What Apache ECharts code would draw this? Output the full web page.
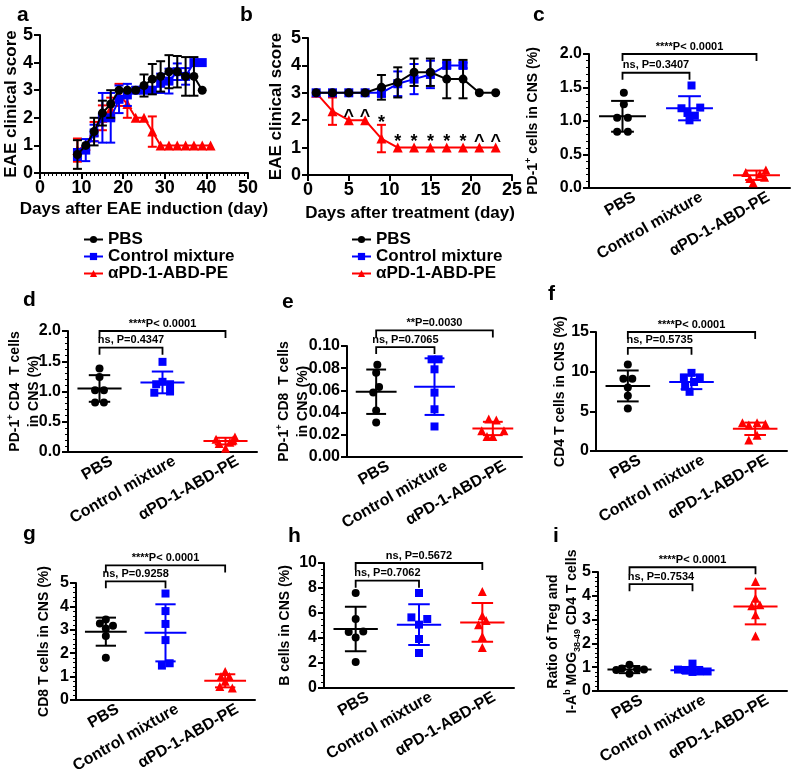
<!DOCTYPE html>
<html><head><meta charset="utf-8">
<script src="https://cdn.jsdelivr.net/npm/echarts@6/dist/echarts.min.js"></script>
<style>html,body{margin:0;padding:0;background:#fff}#chart{width:800px;height:769px}</style>
</head><body><div id="chart"></div>
<script>
// ---------- data ----------
const groups = ['PBS', 'Control mixture', 'αPD-1-ABD-PE'];

// panel a
const aDays = [9,11,13,15,17,19,21,23,25,27,29,31,33,35,37,39];
const aDaysAnti = [9,11,13,15,17,19,21,23,25,27,29,31,33,35,37,39,41];
const aPBS = [0.67,1.0,1.5,2.17,2.5,3.0,3.0,3.0,3.17,3.4,3.5,3.67,3.67,3.5,3.5,3.0];
const aPBSErr = [0.52,0,0.5,0.45,0.5,0,0,0,0.4,0.55,0.55,0.6,0.57,0.7,0.7,0];
const aCtrl = [0.67,0.83,1.45,2.0,2.0,2.67,2.83,3.0,3.0,3.0,3.25,3.33,3.67,3.5,4.0,4.0];
const aCtrlErr = [0.2,0.4,0.3,0.9,0.9,0.5,0.4,0,0,0,0.35,0.45,0.3,0.3,0,0];
const aAnti = [0.83,1.0,1.5,2.0,2.33,2.83,2.5,2.0,2.0,1.5,1,1,1,1,1,1,1];
const aAntiErr = [0.42,0,0.35,0.45,0.4,0.4,0.5,0,0,0.55,0,0,0,0,0,0,0];

// panel b
const bDays = [1,3,5,7,9,11,13,15,17,19,21,23];
const bDaysCtrl = [1,3,5,7,9,11,13,15,17,19];
const bPBS = [3,3,3,3,3.2,3.38,3.75,3.75,3.5,3.5,3,3];
const bPBSErr = [0,0,0,0,0.45,0.55,0.5,0.5,0.7,0.7,0,0];
const bCtrl = [3,3,3,3,3,3.33,3.5,3.67,4,4];
const bCtrlErr = [0,0,0,0,0.15,0.45,0.55,0.5,0.1,0.1];
const bAnti = [3,2.33,2,2,1.33,1,1,1,1,1,1,1];
const bAntiErr = [0,0.5,0,0,0.5,0,0,0,0,0,0,0];
const bMarkDays = [5,7,9,11,13,15,17,19,21,23];
const bMarks = ['^','^','*','*','*','*','*','*','^','^'];
const bMarkY = [2.38,2.38,2.07,1.4,1.4,1.4,1.4,1.4,1.46,1.46];

// scatter panels: values per group [PBS, Control, anti]
const cVals = [[1.42,1.25,1.05,1.05,0.84,0.84],[1.53,1.19,1.2,1.08,1.01,1.12],[0.27,0.23,0.21,0.14,0.16,0.08]];
const cMean = [1.07,1.19,0.19], cSD = [0.23,0.18,0.07];
const cP = ['****P< 0.0001','ns, P=0.3407'], cBrY = [2.0,1.72];

const dVals = [[1.38,1.24,1.02,1.02,0.82,0.82],[1.49,1.12,1.12,1.16,0.98,1.0],[0.25,0.21,0.16,0.14,0.06,0.2]];
const dMean = [1.05,1.15,0.18], dSD = [0.22,0.18,0.055];
const dP = ['****P< 0.0001','ns, P=0.4347'], dBrY = [2.0,1.725];

const eVals = [[0.083,0.076,0.063,0.058,0.042,0.031],[0.088,0.088,0.079,0.058,0.043,0.0275],[0.0343,0.0334,0.0236,0.0236,0.0185,0.0185]];
const eMean = [0.0588,0.0634,0.0257], eSD = [0.02,0.0255,0.006];
const eP = ['**P=0.0030','ns, P=0.7065'], eBrY = [0.114,0.099];

const fVals = [[10.9,9.1,9.1,8.0,6.95,5.36],[9.85,9.27,9.27,8.7,8.1,7.46],[3.56,3.56,3.4,3.27,2.0,1.38]];
const fMean = [8.2,8.7,2.8], fSD = [1.95,0.9,0.78];
const fP = ['****P< 0.0001','ns, P=0.5735'], fBrY = [15.0,13.0];

const gVals = [[3.44,3.27,3.17,3.06,2.73,1.81],[4.55,3.8,3.25,2.56,1.47,1.57],[1.22,1.0,1.0,0.8,0.58,0.51]];
const gMean = [2.92,2.87,0.82], gSD = [0.6,1.22,0.28];
const gP = ['****P< 0.0001','ns, P=0.9258'], gBrY = [5.75,5.07];

const hVals = [[7.6,5.52,4.48,4.53,4.05,2.08],[7.6,5.65,5.52,5.07,3.92,2.8],[7.73,5.79,5.41,5.07,4.13,3.25]];
const hMean = [4.72,5.07,5.25], hSD = [1.78,1.63,1.55];
const hP = ['ns, P=0.5672','ns, P=0.7062'], hBrY = [10.0,8.59];

const iVals = [[1.1,0.95,0.92,0.9,0.88,0.72],[1.15,0.9,0.88,0.82,0.82,0.8],[4.6,3.9,3.58,3.62,3.2,2.31]];
const iMean = [0.9,0.87,3.55], iSD = [0.15,0.14,0.75];
const iP = ['****P< 0.0001','ns, P=0.7534'], iBrY = [5.2,4.49];

// ---------- layout / style ----------
const fam = '"Liberation Sans", Arial, Helvetica, sans-serif';
const colors = ['#000000', '#0000ff', '#ff0000'];
const symbols = ['circle', 'rect', 'triangle'];
const symSizes = [8, 8, 9];
const labelShift = 12;

// horizontal jitter of points (fraction of category band)
const cJit = [[0.02,0.02,-0.08,0.08,-0.08,0.08],[0.03,-0.12,0.16,0.08,0,-0.03],[0.14,-0.16,0.05,-0.1,0.12,-0.05]];
const dJit = [[0,0,-0.07,0.07,-0.07,0.07],[0,-0.1,0.12,0,-0.13,0.12],[0.15,-0.15,0.07,-0.1,0,0.12]];
const eJit = [[0.02,0,0.05,-0.05,0,0],[-0.05,0.07,0,0,0,0],[-0.07,0.06,-0.19,0.19,-0.1,0]];
const fJit = [[0,-0.07,0.07,0,0,0],[0,-0.12,0.13,0.04,-0.1,-0.03],[-0.2,0.03,0.16,-0.1,0.03,-0.1]];
const gJit = [[0,-0.1,0.12,0,0,0],[0,0,0,0,-0.06,0.07],[0,-0.07,0.07,0,-0.09,0.12]];
const hJit = [[0,0,-0.11,0.12,0,0],[0,-0.12,0.13,0,0,0],[0,0,0.06,-0.06,0,0]];
const iJit = [[0,-0.12,0.12,0.23,-0.21,0],[0,-0.23,-0.12,0.12,0.24,0],[0,0,-0.06,0.07,0,0]];

const boxes = {
  a:[40,35,208,138], b:[308,38,204,137], c:[589,54,201,134],
  d:[68,331,189,121], e:[347,346,175,111], f:[596,332,191,119],
  g:[76,583,179,117], h:[324,563,190,125], i:[598,572,189,119]
};

const option = {
  animation: false,
  backgroundColor: '#ffffff',
  textStyle: { fontFamily: fam },
  grid: [], xAxis: [], yAxis: [], series: [], legend: [], graphic: []
};

function addGrid(b) {
  option.grid.push({ left: b[0], top: b[1], width: b[2], height: b[3], outerBoundsMode: 'none', containLabel: false });
  return option.grid.length - 1;
}
const axLine = { show: true, lineStyle: { color: '#000', width: 2 } };
const lblBig = { color: '#000', fontSize: 18, fontWeight: 'bold', fontFamily: fam };
const lblMid = { color: '#000', fontSize: 16, fontWeight: 'bold', fontFamily: fam };

function errRender(color) {
  return function (params, api) {
    const x = api.value(0), v = api.value(1), e = api.value(2);
    if (!(e > 0)) return null;
    const p1 = api.coord([x, v + e]), p2 = api.coord([x, v - e]);
    const w = 4.5, st = { stroke: color, lineWidth: 2 };
    return { type: 'group', children: [
      { type: 'line', shape: { x1: p1[0], y1: p1[1], x2: p2[0], y2: p2[1] }, style: st },
      { type: 'line', shape: { x1: p1[0]-w, y1: p1[1], x2: p1[0]+w, y2: p1[1] }, style: st },
      { type: 'line', shape: { x1: p2[0]-w, y1: p2[1], x2: p2[0]+w, y2: p2[1] }, style: st }
    ]};
  };
}

function addLinePanel(k, xCfg, xName, xNameGap, yNameGap, sets) {
  const gi = addGrid(boxes[k]);
  const xi = option.xAxis.length, yi = option.yAxis.length;
  option.xAxis.push({
    gridIndex: gi, type: 'value', min: xCfg[0], max: xCfg[1], interval: xCfg[2],
    axisLine: axLine, axisTick: { show: true, length: 6, lineStyle: { color: '#000', width: 2 } },
    minorTick: { show: xCfg[3] > 0, splitNumber: xCfg[3] || 5, length: 3, lineStyle: { color: '#000', width: 1 } },
    splitLine: { show: false }, axisLabel: Object.assign({ margin: 6 }, lblBig),
    name: xName, nameLocation: 'middle', nameGap: xNameGap, nameMoveOverlap: false,
    nameTextStyle: { color: '#000', fontSize: 17, fontWeight: 'bold', fontFamily: fam }
  });
  option.yAxis.push({
    gridIndex: gi, type: 'value', min: 0, max: 5, interval: 1,
    axisLine: axLine, axisTick: { show: true, length: 6, lineStyle: { color: '#000', width: 2 } },
    splitLine: { show: false }, axisLabel: Object.assign({ margin: 7 }, lblBig),
    name: 'EAE clinical score', nameLocation: 'middle', nameGap: yNameGap, nameRotate: 90, nameMoveOverlap: false,
    nameTextStyle: { color: '#000', fontSize: 17, fontWeight: 'bold', fontFamily: fam }
  });
  sets.forEach(s => {
    option.series.push({
      type: 'custom', xAxisIndex: xi, yAxisIndex: yi, clip: false,
      renderItem: errRender(colors[s.g]), z: 2 + s.z,
      data: s.days.map((d, j) => [d, s.vals[j], s.errs[j]])
    });
    option.series.push({
      type: 'line', name: groups[s.g], xAxisIndex: xi, yAxisIndex: yi,
      data: s.days.map((d, j) => [d, s.vals[j]]),
      symbol: symbols[s.g], symbolSize: symSizes[s.g] + 1, showSymbol: true,
      lineStyle: { color: colors[s.g], width: 2 }, itemStyle: { color: colors[s.g] },
      color: colors[s.g], z: 2 + s.z
    });
  });
  return { xi, yi };
}

addLinePanel('a', [0, 50, 10, 10], 'Days after EAE induction (day)', 28, 20, [
  { g: 2, days: aDaysAnti, vals: aAnti, errs: aAntiErr, z: 0 },
  { g: 1, days: aDays, vals: aCtrl, errs: aCtrlErr, z: 1 },
  { g: 0, days: aDays, vals: aPBS, errs: aPBSErr, z: 2 }
]);
const bAx = addLinePanel('b', [0, 25, 5, 0], 'Days after treatment (day)', 30, 23, [
  { g: 2, days: bDays, vals: bAnti, errs: bAntiErr, z: 0 },
  { g: 1, days: bDaysCtrl, vals: bCtrl, errs: bCtrlErr, z: 1 },
  { g: 0, days: bDays, vals: bPBS, errs: bPBSErr, z: 2 }
]);
// significance marks in b
option.series.push({
  type: 'custom', xAxisIndex: bAx.xi, yAxisIndex: bAx.yi, clip: false, z: 10,
  data: bMarkDays.map((d, j) => [d, bMarkY[j]]),
  renderItem: function (params, api) {
    const p = api.coord([api.value(0), api.value(1)]);
    const t = bMarks[params.dataIndex];
    return { type: 'text', style: { text: t, x: p[0], y: p[1] + (t === '*' ? 5 : 7), align: 'center', verticalAlign: 'middle',
      font: 'bold 18px ' + fam, fill: '#000' } };
  }
});

// ---------- scatter panels ----------
function meanSdRender(params, api) {
  const x = api.value(0), m = api.value(1), s = api.value(2);
  const bw = api.size([1, 0])[0];
  const c = api.coord([x, m]), t = api.coord([x, m + s]), b = api.coord([x, m - s]);
  const st = { stroke: colors[params.dataIndex], lineWidth: 2 };
  const mw = 0.35 * bw, cw = 0.17 * bw;
  return { type: 'group', children: [
    { type: 'line', shape: { x1: c[0]-mw, y1: c[1], x2: c[0]+mw, y2: c[1] }, style: st },
    { type: 'line', shape: { x1: t[0], y1: t[1], x2: b[0], y2: b[1] }, style: st },
    { type: 'line', shape: { x1: t[0]-cw, y1: t[1], x2: t[0]+cw, y2: t[1] }, style: st },
    { type: 'line', shape: { x1: b[0]-cw, y1: b[1], x2: b[0]+cw, y2: b[1] }, style: st }
  ]};
}
function bracketRender(labels) {
  return function (params, api) {
    const p1 = api.coord([api.value(0), api.value(2)]);
    const p2 = api.coord([api.value(1), api.value(2)]);
    const st = { stroke: '#000', lineWidth: 1.8, fill: null };
    return { type: 'group', children: [
      { type: 'polyline', shape: { points: [[p1[0], p1[1] + 7], [p1[0], p1[1]], [p2[0], p2[1]], [p2[0], p2[1] + 7]] }, style: st },
      { type: 'text', style: { text: labels[params.dataIndex], x: (p1[0] + p2[0]) / 2, y: p1[1] - 2,
        align: 'center', verticalAlign: 'bottom', font: 'bold 11px ' + fam, fill: '#000' } }
    ]};
  };
}

function addScatterPanel(k, vals, jit, mean, sd, pLabels, brY, yCfg, yName, yNameGap) {
  const b = boxes[k];
  const gi = addGrid(b);
  const xi = option.xAxis.length, yi = option.yAxis.length;
  option.xAxis.push({
    gridIndex: gi, type: 'value', min: 0, max: 3, position: 'bottom',
    axisLine: axLine, axisTick: { show: false }, axisLabel: { show: false }, splitLine: { show: false }
  });
  option.yAxis.push({
    gridIndex: gi, type: 'value', min: yCfg[0], max: yCfg[1], interval: yCfg[2],
    axisLine: axLine, axisTick: { show: true, length: 6, lineStyle: { color: '#000', width: 2 } },
    minorTick: { show: yCfg[4] > 0, splitNumber: yCfg[4] || 5, length: 3, lineStyle: { color: '#000', width: 1 } },
    splitLine: { show: false },
    axisLabel: Object.assign({ margin: 7, formatter: v => v.toFixed(yCfg[3]) }, lblMid),
    name: yName, nameLocation: 'middle', nameGap: yNameGap, nameRotate: 90, nameMoveOverlap: false,
    nameTextStyle: { color: '#000', fontSize: 14, fontWeight: 'bold', fontFamily: fam, lineHeight: 19,
      rich: { sup: { fontSize: 9, fontWeight: 'bold', verticalAlign: 'top', lineHeight: 19 },
              sub: { fontSize: 9, fontWeight: 'bold', verticalAlign: 'bottom', lineHeight: 19 } } }
  });
  // category label axis (labels sit slightly right of the columns, as in the original)
  const gl = addGrid([b[0] + labelShift, b[1], b[2], b[3]]);
  option.xAxis.push({
    gridIndex: gl, type: 'category', data: groups, position: 'bottom',
    axisLine: { show: false }, axisTick: { show: false }, splitLine: { show: false },
    axisLabel: Object.assign({ rotate: 30, interval: 0, margin: 8 }, lblMid)
  });
  option.yAxis.push({ gridIndex: gl, type: 'value', show: false, min: 0, max: 1 });

  option.series.push({
    type: 'custom', xAxisIndex: xi, yAxisIndex: yi, clip: false, z: 2,
    data: mean.map((m, g) => [g + 0.5, m, sd[g]]), renderItem: meanSdRender
  });
  vals.forEach((arr, g) => {
    option.series.push({
      type: 'scatter', xAxisIndex: xi, yAxisIndex: yi, z: 3,
      data: arr.map((v, j) => [g + 0.5 + jit[g][j], v]),
      symbol: symbols[g], symbolSize: symSizes[g], itemStyle: { color: colors[g], opacity: 1 }
    });
  });
  option.series.push({
    type: 'custom', xAxisIndex: xi, yAxisIndex: yi, clip: false, z: 4,
    data: [[0.5, 2.5, brY[0]], [0.5, 1.5, brY[1]]], renderItem: bracketRender(pLabels)
  });
}

addScatterPanel('c', cVals, cJit, cMean, cSD, cP, cBrY, [0, 2, 0.5, 1, 5], 'PD-1{sup|+} cells in CNS (%)', 46);
addScatterPanel('d', dVals, dJit, dMean, dSD, dP, dBrY, [0, 2, 0.5, 1, 5], 'PD-1{sup|+} CD4  T cells\nin CNS (%)', 24);
addScatterPanel('e', eVals, eJit, eMean, eSD, eP, eBrY, [0, 0.1, 0.02, 2, 0], 'PD-1{sup|+} CD8  T cells\nin CNS (%)', 34);
addScatterPanel('f', fVals, fJit, fMean, fSD, fP, fBrY, [0, 15, 5, 0, 0], 'CD4 T cells in CNS (%)', 26);
addScatterPanel('g', gVals, gJit, gMean, gSD, gP, gBrY, [0, 5, 1, 0, 5], 'CD8 T cells in CNS (%)', 22);
addScatterPanel('h', hVals, hJit, hMean, hSD, hP, hBrY, [0, 10, 2, 0, 4], 'B cells in CNS (%)', 29);
addScatterPanel('i', iVals, iJit, iMean, iSD, iP, iBrY, [0, 5, 1, 0, 5], 'Ratio of Treg and\nI-A{sup|b} MOG{sub|38-49} CD4 T cells', 16);

// ---------- legends ----------
[78, 346].forEach(left => {
  option.legend.push({
    data: groups, orient: 'vertical', left: left, top: 226, itemWidth: 19, itemHeight: 9, itemGap: 0,
    selectedMode: false,
    textStyle: { color: '#000', fontSize: 17, fontWeight: 'bold', fontFamily: fam, lineHeight: 17 }
  });
});

// ---------- panel letters ----------
const letters = [['a',17,5],['b',240,5],['c',533,5],['d',23,290],['e',282,292],['f',548,284],['g',23,524],['h',288,526],['i',553,526]];
letters.forEach(l => option.graphic.push({
  type: 'text', left: l[1], top: l[2], style: { text: l[0], font: 'bold 21px ' + fam, fill: '#000' }
}));

const chart = echarts.init(document.getElementById('chart'), null, { renderer: 'canvas' });
chart.setOption(option);
</script>
</body></html>
